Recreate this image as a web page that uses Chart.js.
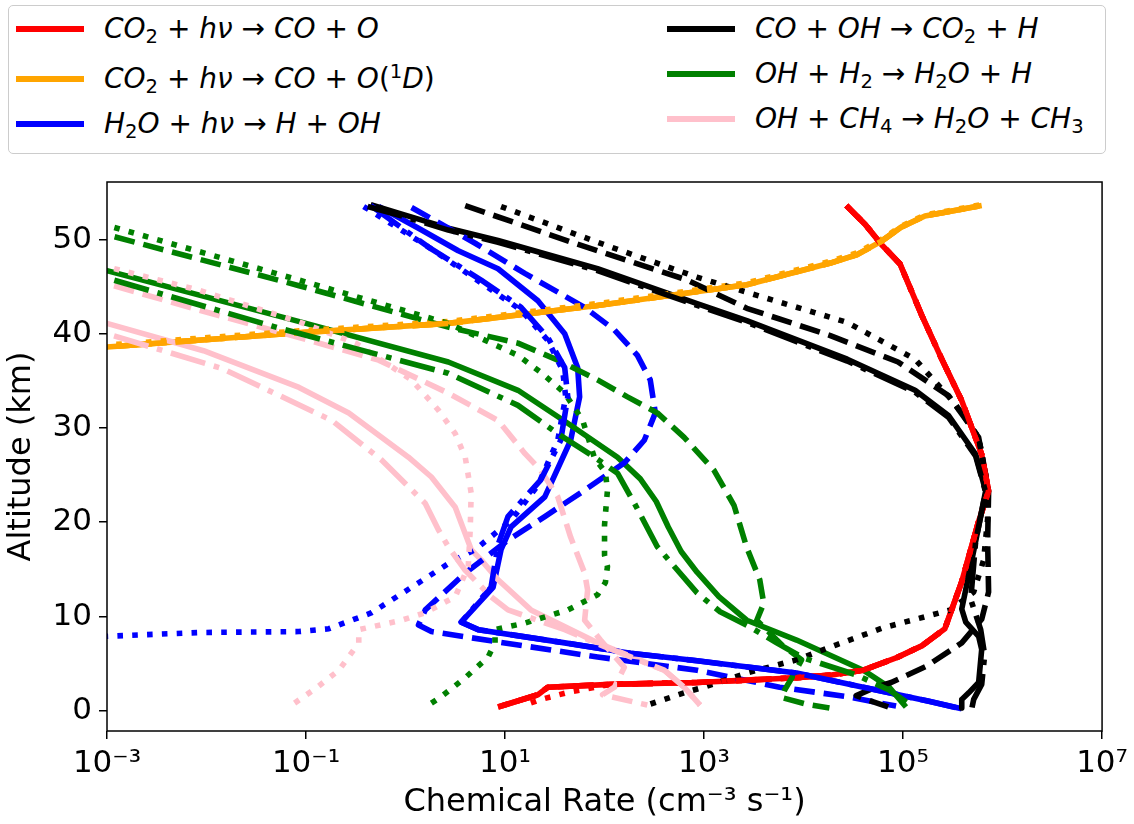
<!DOCTYPE html>
<html>
<head>
<meta charset="utf-8">
<script src="https://cdn.jsdelivr.net/npm/chart.js@4.4.1/dist/chart.umd.min.js"></script>
<style>
    html, body { margin: 0; padding: 0; background: #fff; }
    #wrap { position: relative; width: 1134px; height: 824px; overflow: hidden; }
    #chart { position: absolute; left: 0; top: 0; }
    #legend {
        position: absolute; left: 8px; top: 5px; width: 1096px; height: 147px;
        border: 1px solid #cccccc; border-radius: 5px; background: #fff;
    }
    .handle { position: absolute; width: 68px; height: 5.6px; }
    .txt {
        position: absolute; font-family: "DejaVu Sans", sans-serif; font-size: 28px;
        line-height: 40px; white-space: nowrap; color: #000;
    }
    .txt i { font-style: oblique; }
    .txt sub, .txt sup { font-size: 0.7em; line-height: 0; }
    .txt sub { vertical-align: -0.25em; }
    .txt sup { vertical-align: 0.5em; }
</style>
</head>
<body>
<div id="wrap">
    <canvas id="chart" width="1134" height="824"></canvas>
    <div id="legend"></div>
</div>
<script>
// rate (cm^-3 s^-1), altitude (km) pairs
// solid / dashed / dotted / dash-dot = the four model cases

const co2PhotSolid = [[2.69e4,53.6],[4.17e4,51.6],[6.03e4,49.5],[9.33e4,47.4],[1.55e5,41.9],[2.45e5,37.3],[3.89e5,32.9],[6.17e5,27.2],[7.24e5,23.3],[5.75e5,20.1],[3.89e5,13.7],[2.63e5,8.7],[1.55e5,6.9],[8.51e4,5.6],[3.98e4,4.3],[1.91e4,3.8],[8.51e3,3.5],[851,3.0],[115,2.8],[26.9,2.5],[21.4,1.7],[8.51,0.4]];
const co2PhotDashed = [[2.69e4,53.6],[4.17e4,51.6],[6.03e4,49.5],[9.33e4,47.4],[1.55e5,41.9],[2.45e5,37.3],[3.89e5,32.9],[6.17e5,27.2],[7.24e5,23.3],[5.75e5,20.1],[3.89e5,13.7],[2.63e5,8.7],[1.55e5,6.9],[8.51e4,5.6],[3.98e4,4.3],[1.91e4,3.8],[8.51e3,3.5],[851,3.0],[115,2.8],[26.9,2.5],[21.4,1.7],[8.51,0.4]];
const co2PhotDotted = [[2.69e4,53.6],[4.17e4,51.6],[6.03e4,49.5],[9.33e4,47.4],[1.55e5,41.9],[2.45e5,37.3],[3.89e5,32.9],[6.17e5,27.2],[7.24e5,23.3],[5.75e5,20.1],[3.89e5,13.7],[2.63e5,8.7],[1.55e5,6.9],[8.51e4,5.6],[3.98e4,4.3],[1.91e4,3.8],[8.51e3,3.5],[851,3.0],[115,2.8],[44.7,2.0],[22.9,1.2],[15.8,0.6]];
const co2PhotDashDot = [[2.69e4,53.6],[4.17e4,51.6],[6.03e4,49.5],[9.33e4,47.4],[1.55e5,41.9],[2.45e5,37.3],[3.89e5,32.9],[6.17e5,27.2],[7.24e5,23.3],[5.75e5,20.1],[3.89e5,13.7],[2.63e5,8.7],[1.55e5,6.9],[8.51e4,5.6],[3.98e4,4.3],[1.91e4,3.8],[8.51e3,3.5],[851,3.0],[115,2.8],[26.9,2.5],[21.4,1.7],[8.51,0.4]];

const o1dSolid = [[3.16e-4,38.1],[1e-3,38.6],[0.0851,40.1],[2.69,41.1],[85.1,43.0],[2690,45.2],[1.86e4,47.5],[3.47e4,48.4],[6.03e4,49.8],[9.55e4,51.3],[1.66e5,52.5],[6.17e5,53.6]];
const o1dDashed = [[3.16e-4,38.1],[1e-3,38.6],[0.0851,40.1],[2.69,41.1],[85.1,43.0],[2690,45.2],[1.86e4,47.5],[3.47e4,48.4],[6.03e4,49.8],[9.55e4,51.3],[1.66e5,52.5],[6.17e5,53.6]];
const o1dDotted = [[3.16e-4,38.3],[1e-3,38.8],[0.0851,40.3],[2.69,41.3],[85.1,43.2],[2690,45.4],[1.86e4,47.7],[3.47e4,48.6],[6.03e4,50.0],[9.55e4,51.4],[1.66e5,52.6],[6.17e5,53.7]];
const o1dDashDot = [[3.16e-4,38.1],[1e-3,38.6],[0.0851,40.1],[2.69,41.1],[85.1,43.0],[2690,45.2],[1.86e4,47.5],[3.47e4,48.4],[6.03e4,49.8],[9.55e4,51.3],[1.66e5,52.5],[6.17e5,53.6]];

const h2oPhotSolid = [[0.537,53.5],[1.35,51.2],[3.39,48.8],[8.51,46.9],[21.4,43.5],[39.8,40.0],[53.7,36.4],[56.2,33.3],[45.7,28.7],[25.1,22.7],[11.5,19.5],[9.12,17.1],[7.59,13.1],[3.63,9.4],[5.37,8.6],[39.8,7.2],[182,6.1],[851,5.3],[8510,4.0],[3.98e4,2.5],[1.82e5,1.0],[3.89e5,0.2]];
const h2oPhotDashed = [[1.15,53.4],[5.01,49.6],[15.8,46.4],[63.1,42.8],[126,40.4],[214,37.7],[288,35.1],[324,31.6],[251,28.7],[158,26.3],[63.1,23.4],[25.1,20.6],[10.7,18.1],[3.98,14.6],[1.58,10.7],[1.35,9.1],[1.82,8.4],[8.51,7.3],[85.1,5.7],[851,4.3],[5750,2.5],[2.69e4,1.5],[8.51e4,0.5]];
const h2oPhotDotted = [[0.380,53.5],[1.82,49.0],[5.75,45.4],[14.5,42.5],[26.9,39.3],[38.0,36.1],[40.7,33.3],[33.9,28.7],[21.4,23.9],[11.5,20.2],[5.01,17.1],[2.88,15.8],[1.15,13.1],[0.457,10.4],[0.170,8.7],[0.0851,8.4],[0.00851,8.3],[1e-3,7.9],[1e-4,7.6]];
const h2oPhotDashDot = [[0.447,53.6],[1.70,49.2],[5.75,45.7],[14.5,42.8],[26.9,39.6],[39.8,36.4],[42.7,33.3],[36.3,28.7],[22.9,24.5],[10.7,20.6],[8.51,17.6],[7.24,13.1],[3.63,9.4],[5.37,8.6],[39.8,7.2],[182,6.1],[851,5.3],[8510,4.0],[3.98e4,2.5],[1.82e5,1.0],[3.89e5,0.2]];

const coOhSolid = [[0.447,53.7],[0.851,52.8],[2.69,51.2],[8.51,49.9],[85.1,46.9],[851,43.2],[2690,41.4],[2.75e4,37.3],[1.32e5,34.0],[2.88e5,31.3],[5.37e5,27.2],[6.76e5,23.3],[5.37e5,18.0],[3.89e5,10.8],[4.27e5,9.4],[5.75e5,7.9],[6.17e5,6.5],[5.75e5,3.0],[4.57e5,1.9],[3.89e5,1.2],[3.89e5,0.3]];
const coOhDashed = [[3.98,53.6],[50.1,49.6],[676,45.7],[2690,42.7],[1.86e4,39.8],[8.91e4,37.0],[2.88e5,33.4],[5.75e5,29.0],[7.24e5,23.3],[7.08e5,18.0],[7.24e5,12.6],[6.17e5,9.7],[3.89e5,7.2],[1.70e5,4.7],[7.59e4,3.0],[5.01e4,2.4],[3.39e4,1.6],[4.57e4,1.1],[7.08e4,0.4]];
const coOhDotted = [[9.12,53.5],[85.1,49.7],[851,46.0],[2690,44.4],[2.75e4,41.2],[1.32e5,37.3],[3.31e5,32.6],[5.75e5,29.0],[6.76e5,25.1],[7.08e5,20.4],[6.46e5,16.0],[5.13e5,12.6],[3.02e5,10.7],[1.70e5,10.0],[6.31e4,8.8],[2.14e4,7.0],[8510,5.4],[2690,4.0],[1000,2.5],[676,2.0],[398,1.2],[269,0.6]];
const coOhDashDot = [[0.417,53.5],[0.851,52.6],[2.69,51.0],[8.51,49.7],[85.1,46.7],[851,43.0],[2690,41.2],[2.75e4,37.1],[1.32e5,33.8],[2.88e5,31.1],[5.37e5,27.0],[6.76e5,23.2],[5.37e5,18.0],[4.79e5,11.8],[6.03e5,8.6],[6.61e5,5.9],[6.17e5,2.8],[5.13e5,1.2],[4.90e5,0.2]];

const ohH2Solid = [[3.16e-4,48.1],[1e-3,46.7],[0.1,41.1],[2.69,37.0],[13.5,34.0],[42.7,30.5],[135,26.9],[229,24.6],[331,22.2],[437,19.5],[589,16.9],[851,14.7],[1410,12.1],[2690,9.6],[8510,7.5],[3.98e4,4.3],[7.24e4,2.5],[1.07e5,0.4]];
const ohH2Dashed = [[3.16e-4,51.9],[1e-3,50.5],[0.0851,45.1],[2.69,40.7],[13.5,39.0],[33.9,37.2],[85.1,35.1],[170,33.3],[339,31.6],[631,29.0],[1260,25.5],[2000,21.8],[2690,17.3],[3630,13.9],[3980,11.4],[3390,9.6],[6030,7.0],[9550,5.4],[8130,4.0],[6460,2.2],[6030,1.4],[1.07e4,0.7],[1.82e4,0.3]];
const ohH2Dotted = [[3.16e-4,53.0],[1e-3,51.5],[0.0851,45.7],[2.69,41.1],[13.5,37.7],[22.9,35.9],[39.8,33.7],[60.3,30.8],[79.4,26.8],[102,25.3],[107,23.4],[100,19.7],[100,16.5],[107,15.3],[102,13.6],[85.1,12.3],[42.7,10.7],[15.8,9.3],[7.94,8.6],[7.94,7.2],[6.76,5.7],[3.98,3.5],[2.29,1.5],[1.70,0.6]];
const ohH2DashDot = [[3.16e-4,47.4],[1e-3,45.9],[0.0537,40.6],[2.69,35.8],[13.5,32.4],[33.9,29.4],[79.4,26.9],[135,25.2],[200,22.0],[339,17.4],[851,12.5],[1450,10.5],[2880,8.9],[5370,7.2],[1e4,5.6],[3.39e4,3.8],[7.24e4,2.2],[1.20e5,0.6]];

const ohCh4Solid = [[3.16e-4,42.5],[1e-3,41.1],[0.00933,38.2],[0.0851,34.3],[0.269,31.6],[1.07,26.9],[1.82,24.8],[3.16,21.6],[4.57,17.1],[5.75,16.0],[8.51,13.9],[18.2,10.7],[85.1,7.2],[398,4.3],[631,2.5],[912,0.6]];
const ohCh4Dashed = [[3.16e-4,46.9],[1e-3,45.3],[0.00851,42.5],[0.0851,39.6],[0.537,37.2],[2.69,33.7],[8.51,30.8],[15.8,27.3],[22.9,25.5],[33.9,22.7],[45.7,18.4],[63.1,14.6],[67.6,12.8],[63.1,9.6],[91.2,7.5],[158,4.6],[126,2.5],[95.5,1.7],[269,0.6]];
const ohCh4Dotted = [[3.16e-4,48.7],[1e-3,47.1],[0.00851,44.6],[0.0832,41.3],[0.316,39.0],[1.15,35.1],[2.14,31.9],[3.16,29.4],[3.98,26.9],[4.57,23.1],[4.47,19.2],[4.27,15.3],[3.16,12.1],[1.58,10.4],[0.912,9.6],[0.339,8.6],[0.339,7.2],[0.214,4.3],[0.126,2.4],[0.0676,0.4]];
const ohCh4DashDot = [[3.16e-4,41.6],[1e-3,40.0],[0.0145,36.3],[0.182,30.8],[0.575,26.6],[1.58,22.0],[2.14,19.2],[2.69,17.4],[3.98,14.9],[7.24,12.1],[10.7,10.7],[39.8,8.6],[100,6.8],[398,4.3],[631,2.5],[912,0.6]];

const reactionColors = ["#ff0000", "#ffa500", "#0000ff", "#000000", "#008000", "#ffc0cb"];
const reactionLabels = [
    "<i>CO</i><sub>2</sub> + <i>hν</i> → <i>CO</i> + <i>O</i>",
    "<i>CO</i><sub>2</sub> + <i>hν</i> → <i>CO</i> + <i>O</i>(<sup>1</sup><i>D</i>)",
    "<i>H</i><sub>2</sub><i>O</i> + <i>hν</i> → <i>H</i> + <i>OH</i>",
    "<i>CO</i> + <i>OH</i> → <i>CO</i><sub>2</sub> + <i>H</i>",
    "<i>OH</i> + <i>H</i><sub>2</sub> → <i>H</i><sub>2</sub><i>O</i> + <i>H</i>",
    "<i>OH</i> + <i>CH</i><sub>4</sub> → <i>H</i><sub>2</sub><i>O</i> + <i>CH</i><sub>3</sub>"
];

const xTickValues = [1e-3, 1e-1, 1e1, 1e3, 1e5, 1e7];
const xTickLabels = ["10⁻³", "10⁻¹", "10¹", "10³", "10⁵", "10⁷"];
const yTickValues = [0, 10, 20, 30, 40, 50];

const LW = 5.6;
const dashStyles = {
    solid: [],
    dashed: [3.7 * LW, 1.6 * LW],
    dotted: [1 * LW, 1.65 * LW],
    dashDot: [6.4 * LW, 1.6 * LW, 1 * LW, 1.6 * LW]
};

// plotted case by case, each case going through all six reactions
const curveGroups = [
    { dash: "solid",   curves: [co2PhotSolid, o1dSolid, h2oPhotSolid, coOhSolid, ohH2Solid, ohCh4Solid] },
    { dash: "dashed",  curves: [co2PhotDashed, o1dDashed, h2oPhotDashed, coOhDashed, ohH2Dashed, ohCh4Dashed] },
    { dash: "dotted",  curves: [co2PhotDotted, o1dDotted, h2oPhotDotted, coOhDotted, ohH2Dotted, ohCh4Dotted] },
    { dash: "dashDot", curves: [co2PhotDashDot, o1dDashDot, h2oPhotDashDot, coOhDashDot, ohH2DashDot, ohCh4DashDot] }
];

document.addEventListener("DOMContentLoaded", init);

function init() {
    buildLegend();
    buildChart();
}

/* ------------------- legend ------------------ */

function buildLegend() {
    const legendEl = document.getElementById("legend");
    const rowsLeft = [23, 73, 118];
    const rowsRight = [23, 68, 113];
    reactionLabels.forEach((label, i) => {
        const col = i < 3 ? 0 : 1;
        const row = i % 3;
        const cy = col === 0 ? rowsLeft[row] : rowsRight[row];
        const handle = document.createElement("div");
        handle.className = "handle";
        handle.style.left = (col === 0 ? 7 : 658) + "px";
        handle.style.top = (cy - 2.8) + "px";
        handle.style.background = reactionColors[i];
        legendEl.appendChild(handle);

        const txt = document.createElement("div");
        txt.className = "txt";
        txt.style.left = (col === 0 ? 95 : 746) + "px";
        txt.style.top = (cy - 20) + "px";
        txt.innerHTML = label;
        legendEl.appendChild(txt);
    });
}

/* ------------------- chart ------------------ */

const frame = {
    id: "frame",
    afterDatasetsDraw(chart) {
        const { ctx, chartArea: a } = chart;
        ctx.save();
        ctx.strokeStyle = "#000";
        ctx.lineWidth = 1.5;
        ctx.strokeRect(a.left, a.top, a.right - a.left, a.bottom - a.top);
        ctx.restore();
    }
};

function buildDatasets() {
    const sets = [];
    curveGroups.forEach((g) => {
        g.curves.forEach((curve, i) => {
            sets.push({
                data: curve.map(p => ({ x: p[0], y: p[1] })),
                borderColor: reactionColors[i],
                borderWidth: LW,
                borderDash: dashStyles[g.dash],
                borderCapStyle: "butt",
                borderJoinStyle: "round",
                pointRadius: 0,
                fill: false,
                tension: 0,
                clip: 0
            });
        });
    });
    // first dataset must end up at the bottom
    sets.forEach((s, i) => { s.order = sets.length - i; });
    return sets;
}

function buildChart() {
    const tickFont = { family: "DejaVu Sans", size: 31 };
    const titleFont = { family: "DejaVu Sans", size: 32 };
    new Chart(document.getElementById("chart"), {
        type: "line",
        data: { datasets: buildDatasets() },
        options: {
            responsive: false,
            animation: false,
            events: [],
            layout: { padding: { left: 0, right: 27, top: 182, bottom: 0 } },
            plugins: { legend: { display: false }, tooltip: { enabled: false } },
            scales: {
                x: {
                    type: "logarithmic",
                    min: 1e-3,
                    max: 1e7,
                    afterBuildTicks: (s) => { s.ticks = xTickValues.map(v => ({ value: v })); },
                    afterFit: (s) => { s.height = 93; },
                    ticks: {
                        autoSkip: false, maxRotation: 0, padding: 6, color: "#000", font: tickFont,
                        callback: (v, i) => xTickLabels[i]
                    },
                    grid: { display: true, drawOnChartArea: false, drawTicks: true, tickLength: 8, color: "#000", lineWidth: 1.5 },
                    border: { display: false },
                    title: { display: true, text: "Chemical Rate (cm⁻³ s⁻¹)", color: "#000", font: titleFont, padding: { top: 0, bottom: 2 } }
                },
                y: {
                    type: "linear",
                    min: -2.15,
                    max: 56.1,
                    afterBuildTicks: (s) => { s.ticks = yTickValues.map(v => ({ value: v })); },
                    afterFit: (s) => { s.width = 107; },
                    ticks: { autoSkip: false, padding: 7, color: "#000", font: tickFont, callback: (v) => String(v) },
                    grid: { display: true, drawOnChartArea: false, drawTicks: true, tickLength: 8, color: "#000", lineWidth: 1.5 },
                    border: { display: false },
                    title: { display: true, text: "Altitude (km)", color: "#000", font: titleFont, padding: { top: 2, bottom: 0 } }
                }
            }
        },
        plugins: [frame]
    });
}
</script>
</body>
</html>
